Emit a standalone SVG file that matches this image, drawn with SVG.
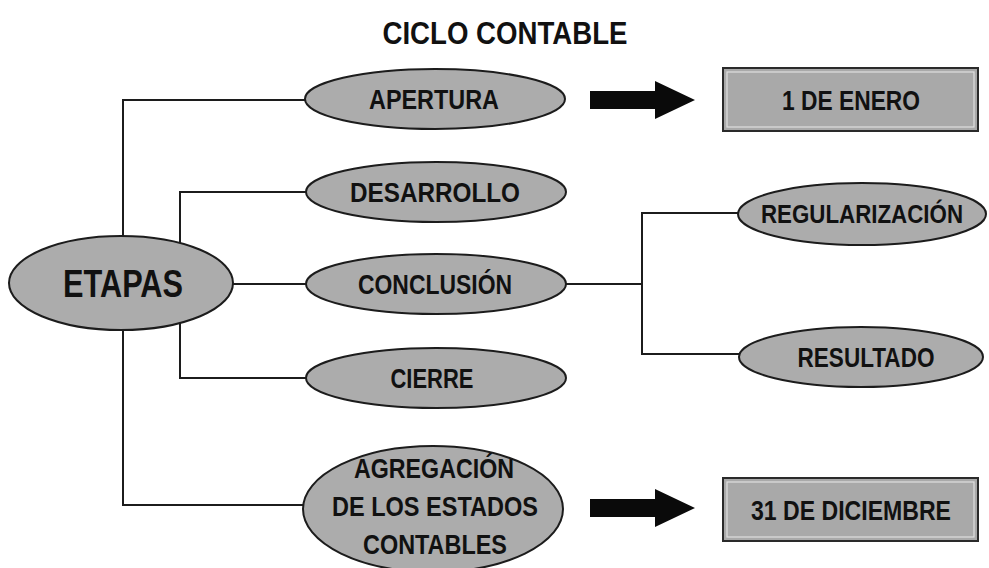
<svg xmlns="http://www.w3.org/2000/svg" width="989" height="568" viewBox="0 0 989 568">
<style>
.bg{fill:#fff}
.ell{fill:#acacac;stroke:#1c1c1c;stroke-width:2}
.box{fill:#a9a9a9;stroke:#2a2a2a;stroke-width:2}
.inner{fill:none;stroke:#e0e0e0;stroke-width:1.2}
.lbl{font-family:"Liberation Sans",Arial,sans-serif;font-weight:bold;font-size:27px;fill:#111;text-anchor:middle}
.con{fill:none;stroke:#1c1c1c;stroke-width:2}
.arr{fill:#0a0a0a}
</style>
<rect class="bg" x="0" y="0" width="989" height="568"/>
<text class="lbl" x="505" y="44" style="font-size:32px" textLength="245" lengthAdjust="spacingAndGlyphs">CICLO CONTABLE</text>
<g id="connectors">
<polyline class="con" points="306,100 123,100 123,505 304,505"/>
<polyline class="con" points="306,192 180,192 180,245"/>
<polyline class="con" points="180,322 180,378 306,378"/>
<line class="con" x1="230" y1="284" x2="306" y2="284"/>
<polyline class="con" points="566,284 642,284"/>
<polyline class="con" points="739,213 642,213 642,354 740,354"/>
<polygon class="arr" points="590,91 655,91 655,81 695,100 655,119 655,109 590,109"/>
<polygon class="arr" points="590,499 655,499 655,489 695,508 655,527 655,517 590,517"/>
</g>
<g id="etapas">
<ellipse class="ell" cx="121" cy="283" rx="112" ry="47"/>
<text class="lbl" x="123" y="297" style="font-size:39px" textLength="120" lengthAdjust="spacingAndGlyphs">ETAPAS</text>
</g>
<g id="apertura">
<ellipse class="ell" cx="435" cy="99" rx="130" ry="30"/>
<text class="lbl" x="434" y="109" textLength="130" lengthAdjust="spacingAndGlyphs">APERTURA</text>
</g>
<g id="desarrollo">
<ellipse class="ell" cx="436" cy="192" rx="130" ry="30"/>
<text class="lbl" x="435" y="202" textLength="170" lengthAdjust="spacingAndGlyphs">DESARROLLO</text>
</g>
<g id="conclusion">
<ellipse class="ell" cx="436" cy="284" rx="130" ry="30"/>
<text class="lbl" x="435" y="294" textLength="154" lengthAdjust="spacingAndGlyphs">CONCLUSIÓN</text>
</g>
<g id="cierre">
<ellipse class="ell" cx="436" cy="378" rx="130" ry="30"/>
<text class="lbl" x="432" y="388" textLength="83" lengthAdjust="spacingAndGlyphs">CIERRE</text>
</g>
<g id="agregacion">
<ellipse class="ell" cx="433" cy="509" rx="130" ry="63"/>
<text class="lbl" x="434" y="478" textLength="160" lengthAdjust="spacingAndGlyphs">AGREGACIÓN</text>
<text class="lbl" x="435" y="516" textLength="206" lengthAdjust="spacingAndGlyphs">DE LOS ESTADOS</text>
<text class="lbl" x="435" y="554" textLength="144" lengthAdjust="spacingAndGlyphs">CONTABLES</text>
</g>
<g id="regularizacion">
<ellipse class="ell" cx="862" cy="214" rx="124" ry="31"/>
<text class="lbl" x="862" y="223" style="font-size:25px" textLength="202" lengthAdjust="spacingAndGlyphs">REGULARIZACIÓN</text>
</g>
<g id="resultado">
<ellipse class="ell" cx="861" cy="357" rx="122" ry="30"/>
<text class="lbl" x="866" y="367" textLength="137" lengthAdjust="spacingAndGlyphs">RESULTADO</text>
</g>
<g id="enero">
<rect class="box" x="723" y="68" width="255" height="63"/>
<rect class="inner" x="727" y="72" width="247" height="55"/>
<text class="lbl" x="851" y="110" textLength="138" lengthAdjust="spacingAndGlyphs">1 DE ENERO</text>
</g>
<g id="diciembre">
<rect class="box" x="723" y="478" width="255" height="63"/>
<rect class="inner" x="727" y="482" width="247" height="55"/>
<text class="lbl" x="851" y="520" textLength="200" lengthAdjust="spacingAndGlyphs">31 DE DICIEMBRE</text>
</g>
</svg>
